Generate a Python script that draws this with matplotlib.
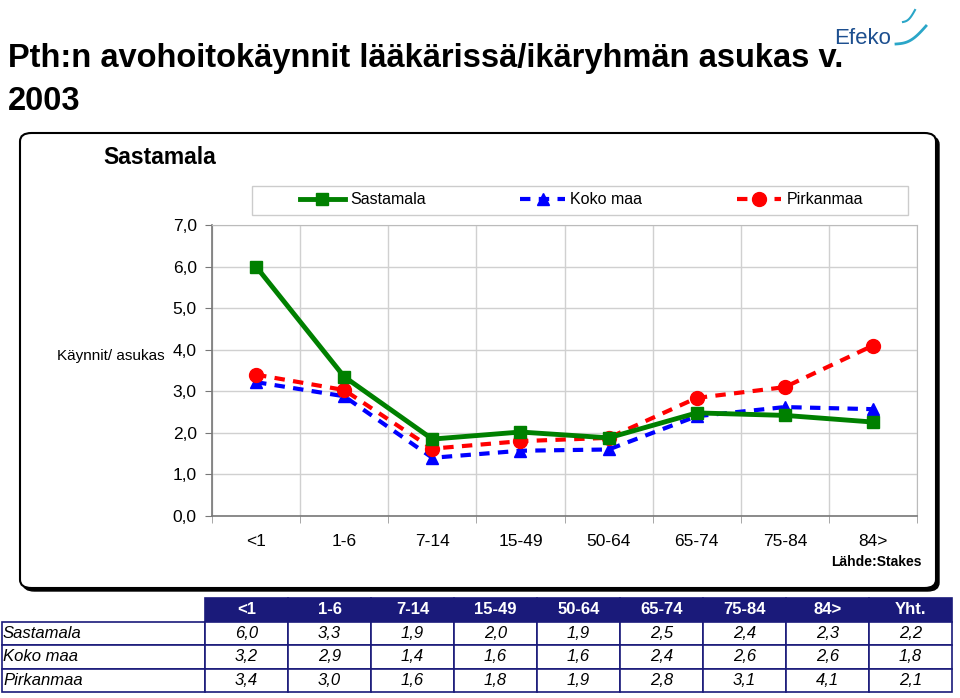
import matplotlib.pyplot as plt
from matplotlib.patches import FancyBboxPatch, Rectangle
import numpy as np

# data
ages = ["<1", "1-6", "7-14", "15-49", "50-64", "65-74", "75-84", "84>"]
sastamala = [6.0, 3.35, 1.85, 2.02, 1.88, 2.48, 2.42, 2.26]
koko_maa = [3.22, 2.88, 1.40, 1.57, 1.60, 2.40, 2.62, 2.57]
pirkanmaa = [3.40, 3.03, 1.62, 1.80, 1.88, 2.84, 3.10, 4.10]

# table under the chart
table_cols = ["<1", "1-6", "7-14", "15-49", "50-64", "65-74", "75-84", "84>", "Yht."]
table_rows = ["Sastamala", "Koko maa", "Pirkanmaa"]
table_sastamala = ["6,0", "3,3", "1,9", "2,0", "1,9", "2,5", "2,4", "2,3", "2,2"]
table_koko = ["3,2", "2,9", "1,4", "1,6", "1,6", "2,4", "2,6", "2,6", "1,8"]
table_pirk = ["3,4", "3,0", "1,6", "1,8", "1,9", "2,8", "3,1", "4,1", "2,1"]

W, H = 960, 698
plt.rcParams['font.family'] = ['Liberation Sans', 'DejaVu Sans']
fig = plt.figure(figsize=(W / 100, H / 100), dpi=100)


def box(x0, y0, x1, y1):
    # pixel box (top-left origin) -> figure fraction rect
    return [x0 / W, 1 - y1 / H, (x1 - x0) / W, (y1 - y0) / H]


# title
fig.text(8 / W, 1 - 58 / H, "Pth:n avohoitokäynnit lääkärissä/ikäryhmän asukas v.",
         fontsize=23.5, fontweight='bold', va='center', ha='left')
fig.text(8 / W, 1 - 101 / H, "2003", fontsize=23.5, fontweight='bold', va='center', ha='left')

# Efeko logo
fig.text(834 / W, 1 - 38 / H, "Efeko", fontsize=16, color='#1d4f8f', va='center', ha='left')
t = np.linspace(0, 1, 30)
fig.add_artist(plt.Line2D((896 + 30 * t) / W, 1 - (44 - 18 * t + 5 * np.sin(np.pi * t)) / H,
                          color='#2aa6c8', lw=2))
fig.add_artist(plt.Line2D((903 + 12 * t) / W, 1 - (22 - 12 * t + 3 * np.sin(np.pi * t)) / H,
                          color='#2aa6c8', lw=1.5))

# chart frame with shadow
shadow = FancyBboxPatch((23 / W, 1 - 591 / H), 916 / W, 455 / H,
                        boxstyle="round,pad=0,rounding_size=0.012",
                        transform=fig.transFigure, facecolor='black', edgecolor='black', zorder=0)
frame = FancyBboxPatch((20 / W, 1 - 588 / H), 916 / W, 455 / H,
                       boxstyle="round,pad=0,rounding_size=0.012",
                       transform=fig.transFigure, facecolor='white', edgecolor='black', lw=1.5, zorder=0)
fig.add_artist(shadow)
fig.add_artist(frame)
# legend box
fig.add_artist(Rectangle((252 / W, 1 - 215 / H), 656 / W, 29 / H, transform=fig.transFigure,
                         facecolor='white', edgecolor='#cccccc', lw=1, zorder=0))

fig.text(103 / W, 1 - 157 / H, "Sastamala", fontsize=16.5, fontweight='bold', va='center', ha='left')

ax = fig.add_axes(box(212, 225, 917, 516))
x = np.arange(len(ages))
ax.plot(x, sastamala, color='#008000', lw=3.5, marker='s', markersize=9, label='Sastamala', zorder=4)
ax.plot(x, koko_maa, color='#0000ff', lw=3, ls=(0, (2.5, 2)), marker='^', markersize=9,
        label='Koko maa', zorder=3)
ax.plot(x, pirkanmaa, color='#ff0000', lw=3, ls=(0, (2.5, 2)), marker='o', markersize=10,
        label='Pirkanmaa', zorder=3)

ax.set_xlim(-0.5, len(ages) - 0.5)
ax.set_ylim(0, 7)
ax.set_yticks(range(8))
ax.set_yticklabels([f"{v},0" for v in range(8)], fontsize=12.5)
ax.set_xticks(x)
ax.set_xticklabels(ages, fontsize=12.5)
ax.set_xticks(np.arange(len(ages) + 1) - 0.5, minor=True)
ax.tick_params(axis='x', which='major', length=0, pad=13)
ax.tick_params(axis='x', which='minor', length=5, color='#999999')
ax.tick_params(axis='y', length=5, color='#777777', pad=6)
ax.grid(axis='y', color='#d0d0d0', lw=1)
ax.grid(axis='x', which='minor', color='#d0d0d0', lw=1)
for s in ['left', 'bottom']:
    ax.spines[s].set_color('#777777')
    ax.spines[s].set_linewidth(1.2)
for s in ['top', 'right']:
    ax.spines[s].set_color('#bbbbbb')
fig.text(165 / W, 1 - 356 / H, "Käynnit/ asukas", fontsize=11, ha='right', va='center')
fig.text(922 / W, 1 - 562 / H, "Lähde:Stakes", fontsize=10, fontweight='bold', ha='right', va='center')

leg = ax.legend(loc='center left', bbox_to_anchor=(300 / W, 1 - 200 / H), bbox_transform=fig.transFigure,
                ncol=3, fontsize=11.5, frameon=False, handlelength=2.8, handletextpad=0.35,
                columnspacing=5.9, borderpad=0, borderaxespad=0)

# table: first column holds the row names, top-left cell left blank
tax = fig.add_axes(box(2, 598, 952, 692))
tax.axis('off')
rows = [[name] + vals for name, vals in zip(table_rows, [table_sastamala, table_koko, table_pirk])]
tbl = tax.table(cellText=rows, colLabels=[""] + table_cols, bbox=[0, 0, 1, 1], cellLoc='center')
tbl.auto_set_font_size(False)
navy = '#1a1a7a'
for (r, c), cell in tbl.get_celld().items():
    cell.set_edgecolor(navy)
    cell.set_linewidth(1.2)
    cell.set_width(203 / 950 if c == 0 else 747 / 950 / 9)
    txt = cell.get_text()
    txt.set_fontsize(12)
    if r == 0:
        if c == 0:
            cell.visible_edges = ''
        else:
            cell.set_facecolor(navy)
            txt.set_color('white')
            txt.set_fontweight('bold')
    else:
        txt.set_fontstyle('italic')
        if c == 0:
            txt.set_horizontalalignment('left')
            cell.PAD = 0.005

fig.savefig("out.png", dpi=100)
